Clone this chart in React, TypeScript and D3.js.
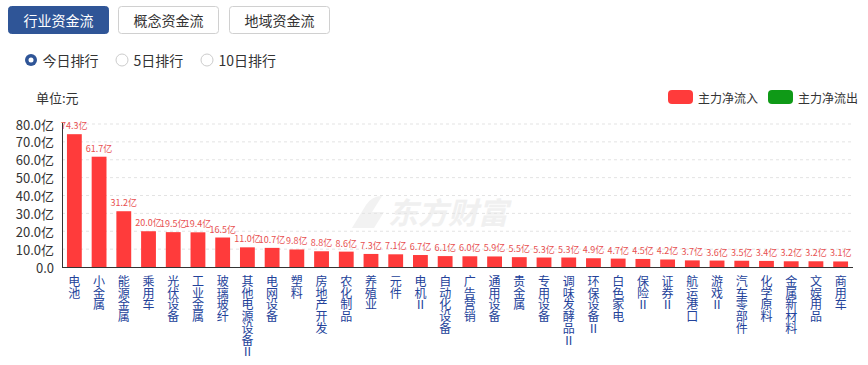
import React from "react";
import * as d3 from "d3";

const categories = ["电池","小金属","能源金属","乘用车","光伏设备","工业金属","玻璃玻纤","其他电源设备Ⅱ","电网设备","塑料","房地产开发","农化制品","养殖业","元件","电机Ⅱ","自动化设备","广告营销","通用设备","贵金属","专用设备","调味发酵品Ⅱ","环保设备Ⅱ","白色家电","保险Ⅱ","证券Ⅱ","航运港口","游戏Ⅱ","汽车零部件","化学原料","金属新材料","文娱用品","商用车"];
const values = [74.3,61.7,31.2,20.0,19.5,19.4,16.5,11.0,10.7,9.8,8.8,8.6,7.3,7.1,6.7,6.1,6.0,5.9,5.5,5.3,5.3,4.9,4.7,4.5,4.2,3.7,3.6,3.5,3.4,3.2,3.2,3.1];
const yTicks = [0,10,20,30,40,50,60,70,80];
const tabs = ["行业资金流","概念资金流","地域资金流"];
const radios = ["今日排行","5日排行","10日排行"];
const legendItems = ["主力净流入","主力净流出"];

const FONT = "'Noto Sans CJK SC', 'Microsoft YaHei', sans-serif";

export default function App() {
  const W = 868, H = 365;
  const x = d3.scaleBand<string>().domain(categories).range([62, 853]).paddingInner(0.4).paddingOuter(0.2);
  const y = d3.scaleLinear().domain([0, 80]).range([267, 124]);
  const tabX = [8, 118, 229];
  const radioX = [31, 122, 207];
  const legendX = [668, 768];
  const legendColors = ["#ff3b3b", "#0f9a17"];
  return (
    <div style={{ position: "absolute", left: 0, top: 0 }}>
      <svg width={W} height={H} style={{ display: "block", fontFamily: FONT }}>
        <rect width={W} height={H} fill="#fff" />
        {tabs.map((t, i) => (
          <g key={t}>
            <rect x={tabX[i] + 0.5} y={6.5} width={100} height={27} rx={3}
              fill={i === 0 ? "#2f5597" : "#fff"} stroke={i === 0 ? "#2f5597" : "#d0d0d0"} />
            <text x={tabX[i] + 50.5} y={20} textAnchor="middle" dominantBaseline="central"
              fontSize={14} fill={i === 0 ? "#fff" : "#333"}>{t}</text>
          </g>
        ))}
        {radios.map((r, i) => (
          <g key={r}>
            {i === 0 ? (
              <g>
                <circle cx={radioX[i]} cy={60} r={6} fill="#2f5597" />
                <circle cx={radioX[i]} cy={60} r={2.5} fill="#fff" />
              </g>
            ) : (
              <circle cx={radioX[i]} cy={60} r={6} fill="#fff" stroke="#ccc" />
            )}
            <text x={radioX[i] + 11.5} y={60} dominantBaseline="central" fontSize={14} fill="#333">{r}</text>
          </g>
        ))}
        <text x={36} y={97} dominantBaseline="central" fontSize={13} fill="#333">单位:元</text>
        {legendItems.map((l, i) => (
          <g key={l}>
            <rect x={legendX[i]} y={90} width={25} height={14} rx={4} fill={legendColors[i]} />
            <text x={legendX[i] + 30} y={97} dominantBaseline="central" fontSize={12} fill="#333">{l}</text>
          </g>
        ))}
        <g opacity={0.5}>
          <path d="M352,228 L366,205 Q372,196 382,196 L372,212 L384,212 L374,228 Z" fill="#e6e6e6" />
          <text x={388} y={224} fontSize={30} fontWeight="bold" fontStyle="italic" fill="#e2e2e2" dominantBaseline="auto">东方财富</text>
        </g>
        {yTicks.slice(1).map((t) => (
          <line key={t} x1={62} x2={853} y1={y(t)} y2={y(t)} stroke="#e3e3e3" strokeDasharray="3,3" />
        ))}
        {yTicks.map((t) => (
          <text key={t} x={54} y={y(t)} textAnchor="end" dominantBaseline="central" fontSize={13} fill="#333">
            {t === 0 ? "0.0" : `${t.toFixed(1)}亿`}
          </text>
        ))}
        {categories.map((c, i) => (
          <rect key={c} x={x(c)} y={y(values[i])} width={x.bandwidth()} height={y(0) - y(values[i])} fill="#ff3b3b" />
        ))}
        {categories.map((c, i) => (
          <text key={c} x={(x(c) as number) + x.bandwidth() / 2} y={y(values[i]) - 5} textAnchor="middle"
            fontSize={9} fill="#e85050">{`${values[i].toFixed(1)}亿`}</text>
        ))}
        <line x1={62.5} x2={62.5} y1={123} y2={267} stroke="#333" />
        <line x1={62} x2={853} y1={267.5} y2={267.5} stroke="#333" />
        {categories.map((c) => {
          const cx = (x(c) as number) + x.bandwidth() / 2;
          return (
            <text key={c} textAnchor="middle" fontSize={12} fill="#23429a">
              {Array.from(c).map((ch, j) => (
                <tspan key={j} x={cx} y={286 + j * 11.7}>{ch}</tspan>
              ))}
            </text>
          );
        })}
      </svg>
    </div>
  );
}
